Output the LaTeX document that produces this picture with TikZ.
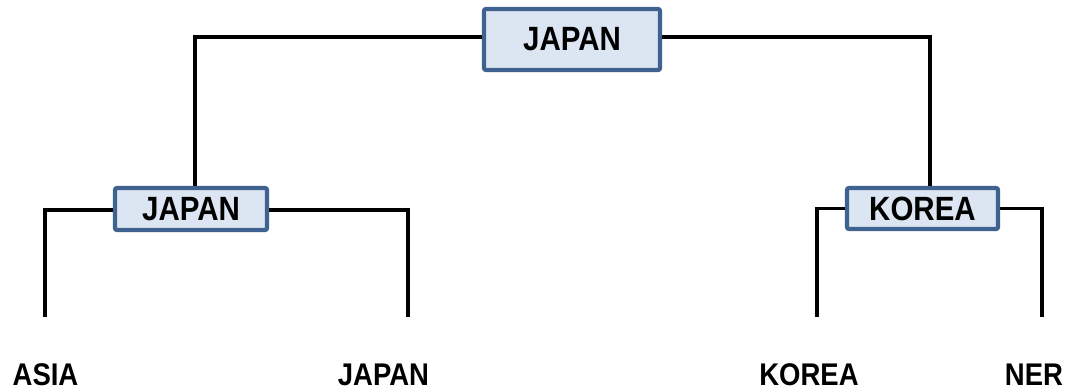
\documentclass[tikz,border=0pt]{standalone}
\usepackage{fontspec}
\setmainfont{Liberation Sans}
\definecolor{boxborder}{HTML}{3F6290}
\definecolor{boxfill}{HTML}{DCE6F2}
\newcommand{\tallt}[1]{\scalebox{1}[1.14]{#1}}
\begin{document}
\begin{tikzpicture}[x=1pt,y=-1pt,
  teambox/.style={draw=boxborder,fill=boxfill,line width=4.2pt,rounded corners=2pt,
    inner sep=0pt,font=\fontsize{29.5}{30}\selectfont\bfseries},
  leaf/.style={inner sep=0pt,anchor=base,font=\fontsize{27.5}{28}\selectfont\bfseries},
  conn/.style={line width=3.6pt,black}]
\useasboundingbox (0,0) rectangle (1066,390);
% connector ends
\coordinate (la) at (45,317);
\coordinate (lb) at (408,317);
\coordinate (lc) at (817,317);
\coordinate (ld) at (1042,317);
% connectors drawn first, boxes on top
\coordinate (topc) at (572,39.5);
\coordinate (midLc) at (191,209);
\coordinate (midRc) at (922.5,208.5);
% boxes
\node[teambox,minimum width=176pt,minimum height=61pt] (top) at (topc) {\tallt{JAPAN}};
\node[teambox,minimum width=152pt,minimum height=42pt] (midL) at (midLc) {\tallt{JAPAN}};
\node[teambox,minimum width=151pt,minimum height=41pt] (midR) at (midRc) {\tallt{KOREA}};
% leaf labels
\node[leaf] (ta) at (45.5,385) {\tallt{ASIA}};
\node[leaf] (tb) at (383.5,385) {\tallt{JAPAN}};
\node[leaf] (tc) at (809,385) {\tallt{KOREA}};
\node[leaf] (td) at (1034,385) {\tallt{NER}};
% connectors
\draw[conn] ([yshift=2.5pt]top.west) -| ([xshift=4pt]midL.north);
\draw[conn] ([yshift=2.5pt]top.east) -| ([xshift=7.5pt]midR.north);
\draw[conn] ([yshift=-1pt]midL.west) -| (la);
\draw[conn] ([yshift=-1pt]midL.east) -| (lb);
\draw[conn] (midR.west) -| (lc);
\draw[conn] (midR.east) -| (ld);
\end{tikzpicture}
\end{document}
